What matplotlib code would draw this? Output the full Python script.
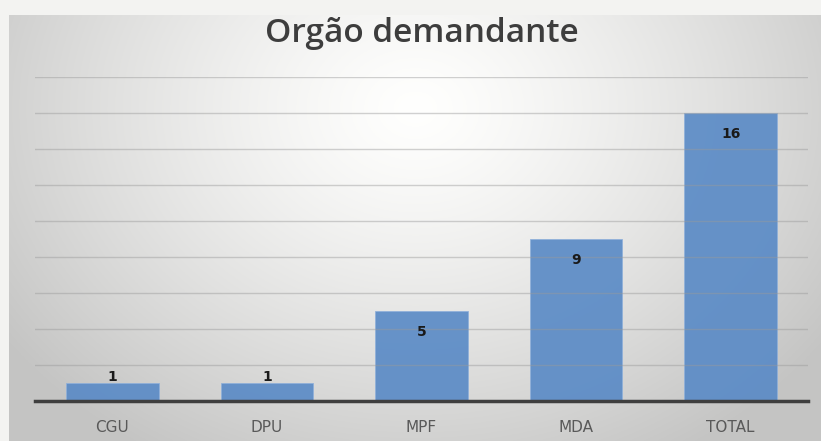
import numpy as np
import matplotlib
matplotlib.use("Agg")
import matplotlib.pyplot as plt

categories = ["CGU", "DPU", "MPF", "MDA", "TOTAL"]
values = [1, 1, 5, 9, 16]
title = "Orgão demandante"

W, H = 821, 441
fig = plt.figure(figsize=(W / 100, H / 100), dpi=100)
fig.patch.set_facecolor("#f3f3f1")

# background panel with radial gradient
px0, py_top = 9, 15
bg = fig.add_axes([px0 / W, 0, 1 - px0 / W, 1 - py_top / H])
bg.set_axis_off()
ny, nx = 300, 600
yy, xx = np.mgrid[0:1:ny * 1j, 0:1:nx * 1j]
d = np.sqrt(((xx - 0.5) / 0.62) ** 2 + ((yy - 0.22) / 0.95) ** 2)
d = np.clip(d, 0, 1)
light = 1.0 - 0.23 * d ** 1.3
img = np.dstack([light, light, light * 0.995])
bg.imshow(img, extent=[0, 1, 0, 1], aspect="auto", origin="upper")
bg.set_xlim(0, 1)
bg.set_ylim(0, 1)

ax = fig.add_axes([35 / W, (H - 401) / H, (808 - 35) / W, (401 - 77) / H])
ax.set_facecolor("none")
x = np.arange(len(categories))
bars = ax.bar(x, values, width=0.6, color="#5b8bc6", alpha=0.92,
              edgecolor="#8fb0da", linewidth=0.6, zorder=2)
ax.set_xlim(-0.5, len(categories) - 0.5)
ax.set_ylim(0, 18)
ax.set_yticks(np.arange(2, 19, 2))
ax.yaxis.grid(True, color="#9a9a9a", alpha=0.45, linewidth=1.0, zorder=1)
ax.set_axisbelow(False)
ax.tick_params(axis="y", left=False, labelleft=False)
ax.tick_params(axis="x", bottom=False, pad=10)
ax.set_xticks(x)
ax.set_xticklabels(categories, fontsize=11, color="#595959",
                   family=["Liberation Sans Narrow", "DejaVu Sans"])
for s in ["top", "right", "left"]:
    ax.spines[s].set_visible(False)
ax.spines["bottom"].set_color("#3f3f3f")
ax.spines["bottom"].set_linewidth(2.5)
ax.spines["bottom"].set_zorder(3)

for xi, v in zip(x, values):
    if v <= 1:
        ax.annotate(str(v), (xi, v), xytext=(0, 4), textcoords="offset points",
                    ha="center", va="center", fontsize=10, fontweight="bold",
                    color="#1a1a1a", zorder=4)
    else:
        ax.annotate(str(v), (xi, v), xytext=(0, -15), textcoords="offset points",
                    ha="center", va="center", fontsize=10, fontweight="bold",
                    color="#1a1a1a", zorder=4)

fig.text(422 / W, 1 - 33 / H, title, ha="center", va="center",
         fontsize=24, fontweight="semibold", color="#3d3d3d",
         family=["Open Sans", "DejaVu Sans"])

fig.savefig("out.png", dpi=100, facecolor=fig.get_facecolor())
